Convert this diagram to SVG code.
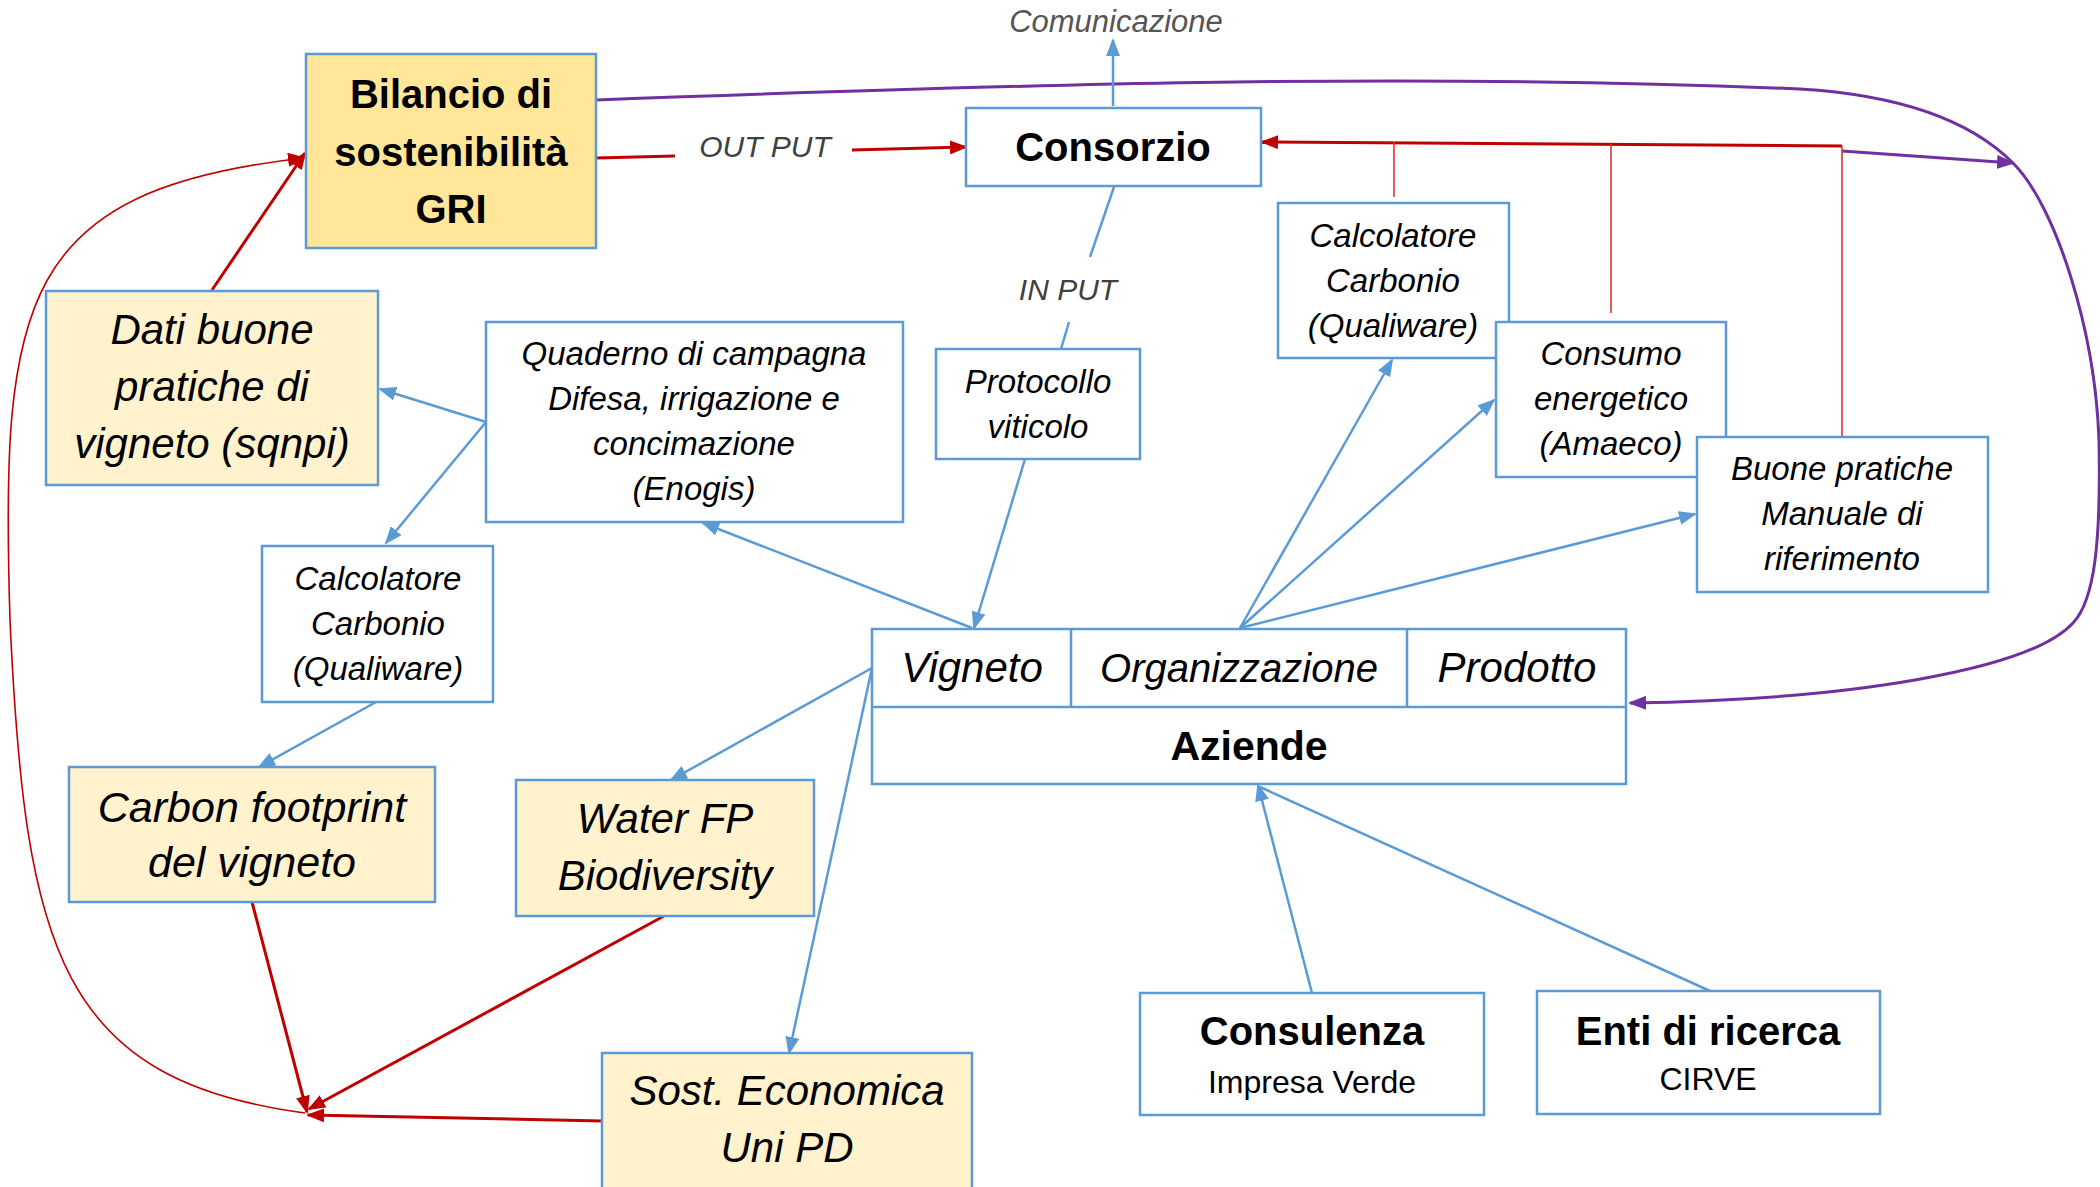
<svg xmlns="http://www.w3.org/2000/svg" width="2100" height="1187" viewBox="0 0 2100 1187">
<defs>
<style>
.box{fill:#ffffff;stroke:#5B9BD5;stroke-width:2.5}
.gold{fill:#FFE699;stroke:#5B9BD5;stroke-width:2.5}
.cream{fill:#FFF2CC;stroke:#5B9BD5;stroke-width:2.5}
text{font-family:"Liberation Sans",Arial,sans-serif;fill:#000;text-anchor:middle}
.it{font-style:italic}
.b{font-weight:bold}
.lbl{font-style:italic;fill:#404040;font-size:30px}
.blue{fill:none;stroke:#5B9BD5;stroke-width:2.5}
.red{fill:none;stroke:#C00000;stroke-width:3}
.redt{fill:none;stroke:#E03030;stroke-width:1.6}
.purple{fill:none;stroke:#7030A0;stroke-width:3}
</style>
<marker id="ab" markerWidth="18" markerHeight="14" refX="16" refY="7" orient="auto" markerUnits="userSpaceOnUse"><path d="M0,0 L18,7 L0,14 Z" fill="#5B9BD5"/></marker>
<marker id="ar" markerWidth="18" markerHeight="14" refX="16" refY="7" orient="auto" markerUnits="userSpaceOnUse"><path d="M0,0 L18,7 L0,14 Z" fill="#C00000"/></marker>
<marker id="ap" markerWidth="18" markerHeight="14" refX="16" refY="7" orient="auto" markerUnits="userSpaceOnUse"><path d="M0,0 L18,7 L0,14 Z" fill="#7030A0"/></marker>
</defs>
<rect width="2100" height="1187" fill="#ffffff"/>

<g id="connectors">
<!-- purple loop -->
<path class="purple" d="M596,100 C1000,85 1400,72 1800,89 C1900,95 1970,120 2013,163 C2056,206 2095,330 2099,440 C2101,540 2095,600 2073,623 C2030,670 1850,700 1630,703" marker-end="url(#ap)"/>
<path class="purple" d="M1842,151 L2013,163" marker-end="url(#ap)"/>
<!-- comunicazione -->
<path class="blue" d="M1113,106 L1113,40" marker-end="url(#ab)"/>
<!-- out put -->
<path class="red" d="M596,158 L675,156"/>
<path class="red" d="M852,150 L966,147" marker-end="url(#ar)"/>
<!-- red feedback to consorzio -->
<path class="red" d="M1842,146 L1262,142" marker-end="url(#ar)"/>
<path class="redt" d="M1394,142 L1394,197"/>
<path class="redt" d="M1611,144 L1611,313"/>
<path class="redt" d="M1842,146 L1842,437"/>
<!-- in put -->
<path class="blue" d="M1114,187 L1090,257"/>
<path class="blue" d="M1069,322 L1061,349"/>
<path class="blue" d="M1025,459 L974,628" marker-end="url(#ab)"/>
<!-- vigneto to quaderno -->
<path class="blue" d="M972,628 L703,523" marker-end="url(#ab)"/>
<!-- quaderno to dati / calcolatore -->
<path class="blue" d="M486,422 L380,389" marker-end="url(#ab)"/>
<path class="blue" d="M486,422 L386,543" marker-end="url(#ab)"/>
<path class="blue" d="M376,702 L259,767" marker-end="url(#ab)"/>
<!-- vigneto left -->
<path class="blue" d="M872,668 L671,780" marker-end="url(#ab)"/>
<path class="blue" d="M872,668 L789,1053" marker-end="url(#ab)"/>
<!-- organizzazione -->
<path class="blue" d="M1240,628 L1392,360" marker-end="url(#ab)"/>
<path class="blue" d="M1240,628 L1494,400" marker-end="url(#ab)"/>
<path class="blue" d="M1240,628 L1695,514" marker-end="url(#ab)"/>
<!-- consulenza / enti -->
<path class="blue" d="M1312,993 L1258,785" marker-end="url(#ab)"/>
<path class="blue" d="M1710,991 L1260,787"/>
<!-- red to convergence -->
<path class="red" d="M252,902 L307,1112" marker-end="url(#ar)"/>
<path class="red" d="M664,916 L309,1109" marker-end="url(#ar)"/>
<path class="red" d="M602,1121 L308,1115" marker-end="url(#ar)"/>
<path class="redt" style="stroke:#C00000" d="M305,1113 C60,1080 25,950 10,620 C0,300 20,190 304,158" marker-end="url(#ar)"/>
<path class="red" d="M212,290 L305,153" marker-end="url(#ar)"/>
</g>

<text class="lbl" x="1116" y="32" style="font-size:31px;fill:#555">Comunicazione</text>
<text class="lbl" x="765" y="157">OUT PUT</text>
<text class="lbl" x="1068" y="300">IN PUT</text>

<g id="bilancio">
<rect class="gold" x="306" y="54" width="290" height="194"/>
<text class="b" font-size="40" x="451" y="108">Bilancio di</text>
<text class="b" font-size="40" x="451" y="166">sostenibilità</text>
<text class="b" font-size="40" x="451" y="223">GRI</text>
</g>

<g id="consorzio">
<rect class="box" x="966" y="108" width="295" height="78"/>
<text class="b" font-size="40" x="1113" y="161">Consorzio</text>
</g>

<g id="calcolatore-r">
<rect class="box" x="1278" y="203" width="231" height="155"/>
<text class="it" font-size="33" x="1393" y="247">Calcolatore</text>
<text class="it" font-size="33" x="1393" y="292">Carbonio</text>
<text class="it" font-size="33" x="1393" y="337">(Qualiware)</text>
</g>

<g id="consumo">
<rect class="box" x="1496" y="322" width="230" height="155"/>
<text class="it" font-size="33" x="1611" y="365">Consumo</text>
<text class="it" font-size="33" x="1611" y="410">energetico</text>
<text class="it" font-size="33" x="1611" y="455">(Amaeco)</text>
</g>

<g id="buone">
<rect class="box" x="1697" y="437" width="291" height="155"/>
<text class="it" font-size="33" x="1842" y="480">Buone pratiche</text>
<text class="it" font-size="33" x="1842" y="525">Manuale di</text>
<text class="it" font-size="33" x="1842" y="570">riferimento</text>
</g>

<g id="protocollo">
<rect class="box" x="936" y="349" width="204" height="110"/>
<text class="it" font-size="33" x="1038" y="393">Protocollo</text>
<text class="it" font-size="33" x="1038" y="438">viticolo</text>
</g>

<g id="quaderno">
<rect class="box" x="486" y="322" width="417" height="200"/>
<text class="it" font-size="33" x="694" y="365">Quaderno di campagna</text>
<text class="it" font-size="33" x="694" y="410">Difesa, irrigazione e</text>
<text class="it" font-size="33" x="694" y="455">concimazione</text>
<text class="it" font-size="33" x="694" y="500">(Enogis)</text>
</g>

<g id="dati">
<rect class="cream" x="46" y="291" width="332" height="194"/>
<text class="it" font-size="42" x="212" y="344">Dati buone</text>
<text class="it" font-size="42" x="212" y="401">pratiche di</text>
<text class="it" font-size="42" x="212" y="458">vigneto (sqnpi)</text>
</g>

<g id="calcolatore-l">
<rect class="box" x="262" y="546" width="231" height="156"/>
<text class="it" font-size="33" x="378" y="590">Calcolatore</text>
<text class="it" font-size="33" x="378" y="635">Carbonio</text>
<text class="it" font-size="33" x="378" y="680">(Qualiware)</text>
</g>

<g id="aziende">
<rect class="box" x="872" y="629" width="754" height="155"/>
<line class="blue" x1="872" y1="707" x2="1626" y2="707"/>
<line class="blue" x1="1071" y1="629" x2="1071" y2="707"/>
<line class="blue" x1="1407" y1="629" x2="1407" y2="707"/>
<text class="it" font-size="42" x="972" y="682">Vigneto</text>
<text class="it" font-size="40" x="1239" y="682">Organizzazione</text>
<text class="it" font-size="42" x="1517" y="682">Prodotto</text>
<text class="b" font-size="41" x="1249" y="760">Aziende</text>
</g>

<g id="carbon">
<rect class="cream" x="69" y="767" width="366" height="135"/>
<text class="it" font-size="43" x="252" y="822">Carbon footprint</text>
<text class="it" font-size="43" x="252" y="877">del vigneto</text>
</g>

<g id="water">
<rect class="cream" x="516" y="780" width="298" height="136"/>
<text class="it" font-size="42" x="665" y="833">Water FP</text>
<text class="it" font-size="42" x="665" y="890">Biodiversity</text>
</g>

<g id="sost">
<rect class="cream" x="602" y="1053" width="370" height="145"/>
<text class="it" font-size="42" x="787" y="1105">Sost. Economica</text>
<text class="it" font-size="42" x="787" y="1162">Uni PD</text>
</g>

<g id="consulenza">
<rect class="box" x="1140" y="993" width="344" height="122"/>
<text class="b" font-size="40" x="1312" y="1045">Consulenza</text>
<text font-size="32" x="1312" y="1093">Impresa Verde</text>
</g>

<g id="enti">
<rect class="box" x="1537" y="991" width="343" height="123"/>
<text class="b" font-size="40" x="1708" y="1045">Enti di ricerca</text>
<text font-size="32" x="1708" y="1090">CIRVE</text>
</g>
</svg>
